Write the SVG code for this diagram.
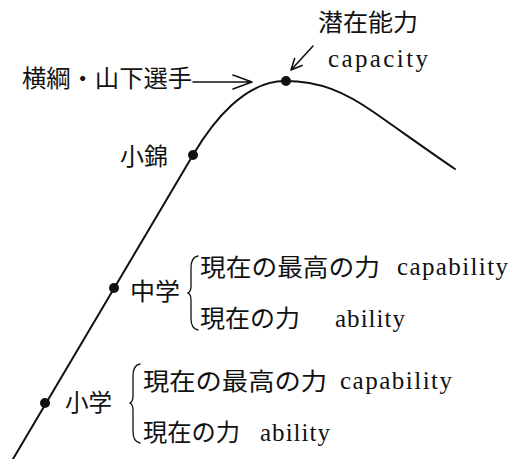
<svg xmlns="http://www.w3.org/2000/svg" width="521" height="459" viewBox="0 0 521 459">
<style>
.cj{font-family:"Noto Sans CJK JP","Noto Sans CJK SC",sans-serif;font-size:24px;fill:#111}
.la{font-family:"Liberation Serif",serif;font-size:25px;fill:#111}
.ln{fill:none;stroke:#111;stroke-width:2;stroke-linecap:round;stroke-linejoin:round}
.ar{fill:none;stroke:#111;stroke-width:1.6;stroke-linecap:round;stroke-linejoin:round}
.br{fill:none;stroke:#111;stroke-width:1.3;stroke-linecap:round}
.dot{fill:#111}
</style>
<rect width="521" height="459" fill="#fff"/>
<g id="connectors">
<path class="ln" d="M13,459 L193,155 C213,121 245,81 285,81 C320,81 345,92 375,113 C405,134 430,152 455,169"/>
<path class="ar" d="M193,82 L252,82 M233,75 L252,82 L233,89"/>
<path class="ar" d="M313,46 L291,70 M294.6,58.6 L291,70 L302,65.4"/>
</g>
<g id="peak">
<circle class="dot" cx="286" cy="81" r="5"/>
<text class="cj" x="318" y="31" textLength="100" lengthAdjust="spacingAndGlyphs">潜在能力</text>
<text class="la" x="328" y="67" textLength="100" lengthAdjust="spacing">capacity</text>
</g>
<g id="yokozuna">
<text class="cj" x="22" y="87" textLength="170" lengthAdjust="spacingAndGlyphs">横綱・山下選手</text>
</g>
<g id="konishiki">
<circle class="dot" cx="193" cy="155" r="5"/>
<text class="cj" x="120" y="165" textLength="48" lengthAdjust="spacingAndGlyphs">小錦</text>
</g>
<g id="chugaku">
<circle class="dot" cx="114" cy="288" r="5"/>
<text class="cj" x="130" y="300" textLength="50" lengthAdjust="spacingAndGlyphs">中学</text>
<path class="br" d="M198,256 C192,257 191,262 191,268 L191,286 C191,290 190,292 188,293 C190,294 191,296 191,300 L191,318 C191,324 192,329 198,330"/>
<text class="cj" x="200" y="276" textLength="180" lengthAdjust="spacingAndGlyphs">現在の最高の力</text>
<text class="la" x="397" y="275" textLength="111" lengthAdjust="spacing">capability</text>
<text class="cj" x="200" y="327" textLength="100" lengthAdjust="spacingAndGlyphs">現在の力</text>
<text class="la" x="335" y="327" textLength="70" lengthAdjust="spacing">ability</text>
</g>
<g id="shogaku">
<circle class="dot" cx="45" cy="403" r="5"/>
<text class="cj" x="65" y="411" textLength="47" lengthAdjust="spacingAndGlyphs">小学</text>
<path class="br" d="M140,364 C134,365 133,370 133,376 L133,396 C133,400 132,402 130,403 C132,404 133,406 133,410 L133,431 C133,437 134,442 140,443"/>
<text class="cj" x="143" y="390" textLength="184" lengthAdjust="spacingAndGlyphs">現在の最高の力</text>
<text class="la" x="340" y="389" textLength="112" lengthAdjust="spacing">capability</text>
<text class="cj" x="143" y="441" textLength="97" lengthAdjust="spacingAndGlyphs">現在の力</text>
<text class="la" x="260" y="441" textLength="70" lengthAdjust="spacing">ability</text>
</g>
</svg>
